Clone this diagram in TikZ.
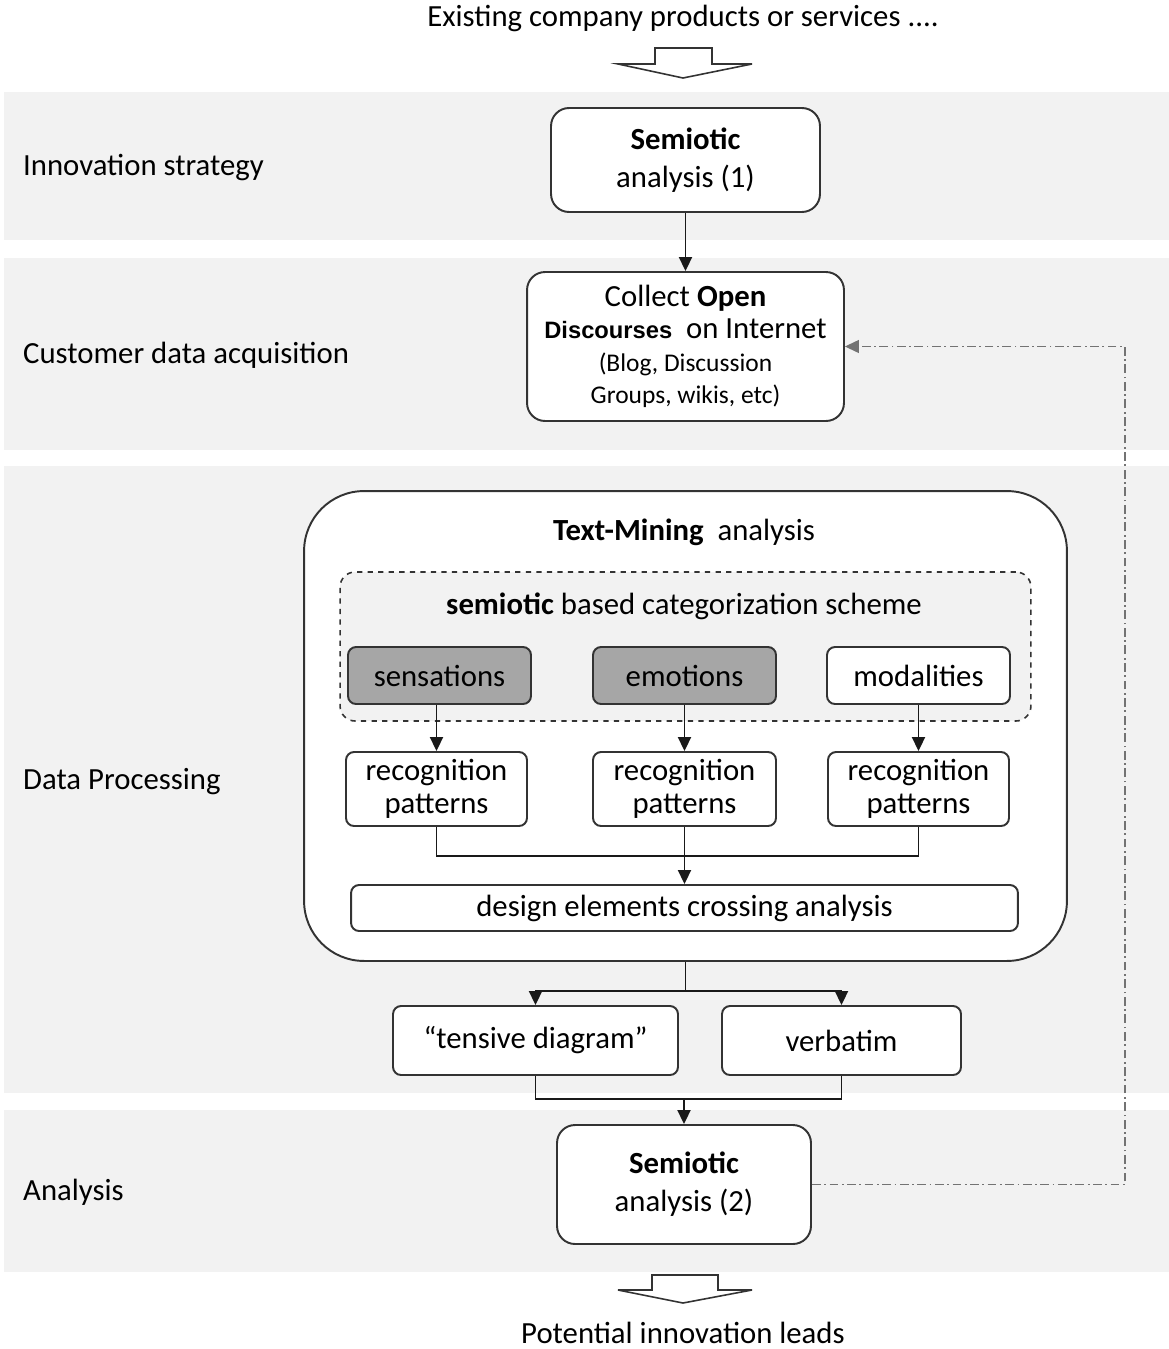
\documentclass[tikz,border=0pt]{standalone}
\usepackage{fontspec}
\setmainfont{Carlito}
\newfontfamily\arialfont{Liberation Sans}
\usetikzlibrary{arrows.meta,calc}

\begin{document}
\begin{tikzpicture}[
		x=0.02cm,y=-0.02cm,
		>={Triangle[length=2.8mm,width=2.6mm]},
		every node/.style={font=\fontsize{17.5}{20}\selectfont},
		box/.style={draw=black!80, line width=1.1pt, fill=white, rounded corners=0.16cm, align=center, inner sep=2pt},
		bigbox/.style={box, rounded corners=0.36cm, font=\fontsize{17.5}{21.5}\selectfont},
		catbox/.style={box, fill=black!35, minimum width=3.66cm, minimum height=1.14cm},
		recbox/.style={box, minimum width=3.62cm, minimum height=1.48cm, font=\fontsize{17.5}{19}\selectfont},
		flow/.style={draw=black!90, line width=1.1pt},
		arr/.style={flow, ->},
		lane/.style={anchor=west},
		hollow/.style={draw=black!80, line width=0.9pt, fill=white}
		]
		
		\useasboundingbox (0,0) rectangle (1169,1349);
		
		% =========================
		% background bands
		% =========================
		\fill[gray!10] (4,92) rectangle (1169,240);
		\fill[gray!10] (4,258) rectangle (1169,450);
		\fill[gray!10] (4,466) rectangle (1169,1093);
		\fill[gray!10] (4,1110) rectangle (1169,1272);
		
		\node[lane] (l1) at (17,168) {Innovation strategy};
		\node[lane] (l2) at (17,355) {Customer data acquisition};
		\node[lane] (l3) at (17,782) {Data Processing};
		\node[lane] (l4) at (17,1192) {Analysis};
		
		% =========================
		% input / output
		% =========================
		\node (input) at (683,18) {Existing company products or services ....};
		\draw[hollow] (655,48) -- (712,48) -- (712,64) -- (752,64) -- (683,78)
		-- (618,64) -- (655,64) -- cycle;
		
		\draw[hollow] (652,1275) -- (718,1275) -- (718,1290) -- (752,1290) -- (683,1303)
		-- (618,1290) -- (652,1290) -- cycle;
		\node (output) at (683,1333) {Potential innovation leads};
		
		% =========================
		% upper part
		% =========================
		\node[bigbox, minimum width=5.38cm, minimum height=2.08cm] (sa1) at (685.5,160)
		{\textbf{Semiotic}\\analysis (1)};
		
		\node[bigbox, minimum width=6.34cm, minimum height=2.98cm, font=\fontsize{17.5}{18.5}\selectfont] (collect) at (685.5,346.5)
		{Collect \textbf{Open}\\
			{\arialfont\bfseries\fontsize{13.5}{18.5}\selectfont Discourses}\ \ on Internet\\
			{\fontsize{14.5}{18.5}\selectfont (Blog, Discussion}\\
			{\fontsize{14.5}{18.5}\selectfont Groups, wikis,\ etc)}};
		
		\draw[arr] (sa1) -- (collect);
		
		% =========================
		% text-mining block
		% =========================
		\node[box, rounded corners=1.2cm, minimum width=15.26cm, minimum height=9.4cm] (tm) at (685.5,726) {};
		\node (tmtitle) at (684,532) {\textbf{Text-Mining}\ \ analysis};
		
		\node[draw=black!80, dashed, line width=0.9pt, fill=gray!10, rounded corners=0.3cm,
		minimum width=13.82cm, minimum height=2.98cm] (scheme) at (685.5,646.5) {};
		\node (schemetitle) at (684,606) {\textbf{semiotic} based categorization scheme};
		
		\node[catbox] (sens) at (439.5,675.5) {sensations};
		\node[catbox] (emo) at (684.5,675.5) {emotions};
		\node[catbox, fill=white] (moda) at (918.5,675.5) {modalities};
		
		\node[recbox] (rec1) at (436.5,789) {recognition\\patterns};
		\node[recbox, minimum width=3.66cm] (rec2) at (684.5,789) {recognition\\patterns};
		\node[recbox] (rec3) at (918.5,789) {recognition\\patterns};
		
		\draw[arr] (rec1.north |- sens.south) -- (rec1.north);
		\draw[arr] (emo.south) -- (rec2.north);
		\draw[arr] (moda.south) -- (rec3.north);
		
		\node[box, minimum width=13.34cm, minimum height=0.92cm] (design) at (684.5,908)
		{design elements crossing analysis};
		
		\coordinate (j1) at (684.5,856);
		\draw[flow] (rec1.south) |- (j1) -| (rec3.south);
		\draw[arr] (rec2.south) -- (design.north);
		
		% =========================
		% results
		% =========================
		\node[box, minimum width=5.7cm, minimum height=1.38cm] (tensive) at (535.5,1040.5) {``tensive diagram''};
		\node[box, minimum width=4.78cm, minimum height=1.38cm] (verb) at (841.5,1040.5) {verbatim};
		
		\coordinate (j2) at ($(tm.south)+(0,29)$);
		\draw[flow] (tm.south) -- (j2);
		\draw[arr] (j2) -| (tensive.north);
		\draw[arr] (j2) -| (verb.north);
		
		\node[bigbox, minimum width=5.08cm, minimum height=2.38cm] (sa2) at (684,1184.5)
		{\textbf{Semiotic}\\analysis (2)};
		
		\coordinate (j3) at (684,1099);
		\draw[flow] (tensive.south) |- (j3) -| (verb.south);
		\draw[arr] (j3) -- (sa2.north);
		
		% feedback loop
		\coordinate (fb) at (1125,346.5);
		\draw[flow, draw=black!55, line width=0.7pt, dash pattern=on 5pt off 2pt on 1pt off 2pt, ->]
		(sa2.east) -| (fb) -- (collect.east);
		
	\end{tikzpicture}
\end{document}
